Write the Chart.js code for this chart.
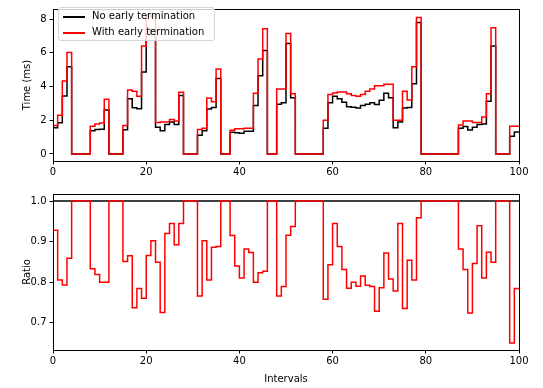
<!DOCTYPE html>
<html>
<head>
<meta charset="utf-8">
<script src="https://cdn.jsdelivr.net/npm/chart.js@4.4.1/dist/chart.umd.min.js"></script>
<style>
  body { margin: 0; background: #fff; }
  #wrap { position: relative; width: 543px; height: 388px; font-family: "DejaVu Sans", sans-serif; }
  #top { position: absolute; left: 0; top: 0; }
  #bottom { position: absolute; left: 0; top: 185px; }
  #legend {
    position: absolute; left: 58px; top: 7px; width: 157px; height: 34px;
    border: 1px solid #d6d6d6; border-radius: 3px; background: rgba(255,255,255,0.8);
    box-sizing: border-box;
  }
  .item { position: absolute; left: 0; height: 14px; font-size: 10px; line-height: 14px; color: #000; white-space: nowrap; }
  .item span.ln { position: absolute; left: 4px; top: 7px; width: 22px; height: 2px; }
  .item span.tx { position: absolute; left: 33px; top: 0; }
</style>
</head>
<body>
<div id="wrap">
  <canvas id="top" width="543" height="185"></canvas>
  <canvas id="bottom" width="543" height="203"></canvas>
  <div id="legend">
    <div class="item" style="top:1px"><span class="ln" style="background:#000"></span><span class="tx">No early termination</span></div>
    <div class="item" style="top:17px"><span class="ln" style="background:#ff0000"></span><span class="tx">With early termination</span></div>
  </div>
</div>
<script>
// interval boundaries 0..100, value i holds for (i-1, i]
let intervals = Array.from({length: 101}, (_, i) => i)

let noEarly = [
  1.2, 1.56, 1.85, 3.43, 5.17, 0, 0, 0, 0, 1.37,
  1.45, 1.46, 2.6, 0, 0, 0, 1.43, 3.28, 2.74, 2.68,
  4.86, 7.09, 7.39, 1.59, 1.38, 1.75, 1.9, 1.75, 3.46, 0,
  0, 0, 1.11, 1.38, 2.67, 2.75, 4.48, 0, 0, 1.28,
  1.26, 1.22, 1.35, 1.34, 2.88, 4.64, 6.14, 0, 0, 2.95,
  3.04, 6.55, 3.34, 0, 0, 0, 0, 0, 0, 1.52,
  3.04, 3.42, 3.27, 3.06, 2.8, 2.77, 2.72, 2.88, 2.95, 3.04,
  2.94, 3.18, 3.6, 3.34, 1.56, 1.89, 2.72, 2.75, 4.17, 7.8,
  0, 0, 0, 0, 0, 0, 0, 0, 1.53, 1.63,
  1.42, 1.58, 1.75, 1.77, 3.12, 6.4, 0, 0, 0, 1.05,
  1.3
]

let withEarly = [
  1.6, 1.68, 2.3, 4.32, 6.02, 0, 0, 0, 0, 1.64,
  1.77, 1.83, 3.25, 0, 0, 0, 1.68, 3.79, 3.72, 3.42,
  6.4, 8.19, 8.19, 1.87, 1.9, 1.9, 2.05, 1.96, 3.66, 0,
  0, 0, 1.45, 1.53, 3.32, 3.1, 5.04, 0, 0, 1.4,
  1.5, 1.5, 1.53, 1.53, 3.6, 5.64, 7.43, 0, 0, 3.85,
  3.85, 7.15, 3.57, 0, 0, 0, 0, 0, 0, 2.0,
  3.53, 3.62, 3.68, 3.68, 3.57, 3.47, 3.42, 3.53, 3.72, 3.85,
  4.04, 4.04, 4.13, 4.13, 2.0, 2.0, 3.72, 3.2, 5.17, 8.1,
  0, 0, 0, 0, 0, 0, 0, 0, 1.72, 1.96,
  1.96, 1.87, 1.87, 2.19, 3.57, 7.49, 0, 0, 0, 1.64,
  1.64
]

let ratio = [
  0.75, 0.928, 0.805, 0.793, 0.859, 1, 1, 1, 1, 0.833,
  0.819, 0.80, 0.80, 1, 1, 1, 0.851, 0.865, 0.737, 0.784,
  0.76, 0.866, 0.902, 0.849, 0.725, 0.92, 0.945, 0.892, 0.945, 1,
  1, 1, 0.766, 0.902, 0.805, 0.886, 0.888, 1, 1, 0.915,
  0.84, 0.81, 0.882, 0.873, 0.80, 0.823, 0.827, 1, 1, 0.766,
  0.789, 0.916, 0.937, 1, 1, 1, 1, 1, 1, 0.758,
  0.843, 0.945, 0.888, 0.831, 0.785, 0.80, 0.79, 0.815, 0.792, 0.789,
  0.728, 0.786, 0.872, 0.808, 0.778, 0.945, 0.735, 0.854, 0.805, 0.959,
  1, 1, 1, 1, 1, 1, 1, 1, 0.882, 0.831,
  0.724, 0.846, 0.939, 0.81, 0.874, 0.849, 1, 1, 1, 0.65,
  0.784
]

let unityRatio = 1.0
let xTicks = [0, 20, 40, 60, 80, 100]
let timeTicks = [0, 2, 4, 6, 8]
let ratioTicks = [0.7, 0.8, 0.9, 1.0]

function pts(ys){
  return ys.map((y, i) => ({x: intervals[i], y: y}))
}

// matplotlib style closed frame around plot area
let frame = {
  id: "frame",
  afterDraw(chart){
    let a = chart.chartArea
    let ctx = chart.ctx
    ctx.save()
    ctx.strokeStyle = "#000"
    ctx.lineWidth = 1
    ctx.strokeRect(Math.round(a.left) + 0.5, Math.round(a.top) + 0.5, Math.round(a.right - a.left), Math.round(a.bottom - a.top))
    ctx.restore()
  }
}

let font = {family: "DejaVu Sans", size: 10}

function xScale(h, showTitle){
  return {
    type: "linear", min: 0, max: 100,
    afterBuildTicks: s => { s.ticks = xTicks.map(v => ({value: v})) },
    afterFit: s => { s.height = h },
    grid: {display: true, drawOnChartArea: false, drawTicks: true, tickLength: 3.5, color: "#000"},
    border: {display: false},
    ticks: {font: font, color: "#000", padding: 2, maxRotation: 0},
    title: {display: showTitle, text: "Intervals", font: font, color: "#000", padding: {top: 0, bottom: 3}}
  }
}

function yScale(min, max, ticks, label, fmt){
  return {
    type: "linear", min: min, max: max,
    afterBuildTicks: s => { s.ticks = ticks.map(v => ({value: v})) },
    afterFit: s => { s.width = 53 },
    grid: {display: true, drawOnChartArea: false, drawTicks: true, tickLength: 3.5, color: "#000"},
    border: {display: false},
    ticks: {font: font, color: "#000", padding: 3, callback: fmt},
    title: {display: true, text: label, font: font, color: "#000", padding: {top: 21, bottom: 0}}
  }
}

let common = {
  responsive: false,
  animation: false,
  devicePixelRatio: 1,
  plugins: {legend: {display: false}, tooltip: {enabled: false}},
  elements: {point: {radius: 0}, line: {tension: 0}}
}

new Chart(document.getElementById("top"), {
  type: "line",
  data: {
    datasets: [
      {label: "No early termination", data: pts(noEarly), borderColor: "#000000", borderWidth: 1.5, stepped: "after", order: 2},
      {label: "With early termination", data: pts(withEarly), borderColor: "#ff0000", borderWidth: 1.5, stepped: "after", order: 1}
    ]
  },
  options: Object.assign({}, common, {
    layout: {padding: {left: 0, right: 24, top: 2, bottom: 0}},
    scales: {
      x: xScale(24, false),
      y: yScale(-0.42, 8.6, timeTicks, "Time (ms)", v => v.toFixed(0))
    }
  }),
  plugins: [frame]
})

new Chart(document.getElementById("bottom"), {
  type: "line",
  data: {
    datasets: [
      {label: "unity", data: [{x: 0, y: unityRatio}, {x: 100, y: unityRatio}], borderColor: "#000000", borderWidth: 1.5, order: 2},
      {label: "Ratio", data: pts(ratio), borderColor: "#ff0000", borderWidth: 1.5, stepped: "after", order: 1}
    ]
  },
  options: Object.assign({}, common, {
    layout: {padding: {left: 0, right: 24, top: 8, bottom: 0}},
    scales: {
      x: xScale(38, true),
      y: yScale(0.6325, 1.0175, ratioTicks, "Ratio", v => v.toFixed(1))
    }
  }),
  plugins: [frame]
})
</script>
</body>
</html>
